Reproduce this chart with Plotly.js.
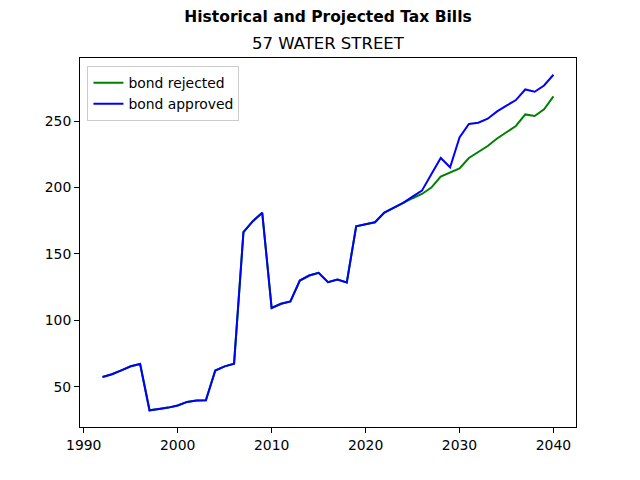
<!DOCTYPE html>
<html>
<head>
<meta charset="utf-8">
<script src="https://cdn.plot.ly/plotly-3.0.1.min.js"></script>
<style>
  html, body { margin: 0; padding: 0; background: #fff; }
  #chart { width: 640px; height: 480px; }
</style>
</head>
<body>
<div id="chart"></div>
<script>
var years = [];
for (let y = 1992; y <= 2040; y++) years.push(y);

// 1992..2040
var bondRejected = [
    57.4, 59.4, 62.4, 65.4, 67.1, 32.3, 33.3, 34.3, 35.9, 38.6,
    39.6, 39.8, 62.2, 65.4, 67.4, 166.4, 174.7, 181.0, 109.3, 112.5,
    114.3, 130.0, 133.8, 135.8, 128.8, 130.8, 128.6, 170.9, 172.4, 173.9,
    181.2, 185.0, 188.5, 192.0, 195.2, 200.0, 208.3, 211.3, 214.5, 222.3,
    227.0, 231.3, 237.0, 241.8, 246.4, 255.1, 253.9, 258.9, 268.7
];
var bondApproved = [
    57.4, 59.4, 62.4, 65.4, 67.1, 32.3, 33.3, 34.3, 35.9, 38.6,
    39.6, 39.8, 62.2, 65.4, 67.4, 166.4, 174.7, 181.0, 109.3, 112.5,
    114.3, 130.0, 133.8, 135.8, 128.8, 130.8, 128.6, 170.9, 172.4, 173.9,
    181.2, 185.0, 188.5, 193.2, 197.7, 210.0, 222.3, 215.3, 237.8, 247.9,
    248.9, 251.9, 257.4, 261.7, 265.9, 273.9, 272.2, 276.9, 285.0
];

var xTicks = [1990, 2000, 2010, 2020, 2030, 2040];
var yTicks = [50, 100, 150, 200, 250];

var traces = [
    {
        x: years,
        y: bondRejected,
        type: 'scatter',
        mode: 'lines',
        name: 'bond rejected',
        line: { color: 'green', width: 2 }
    },
    {
        x: years,
        y: bondApproved,
        type: 'scatter',
        mode: 'lines',
        name: 'bond approved',
        line: { color: 'blue', width: 2 }
    }
];

var font = 'DejaVu Sans, sans-serif';

var axisStyle = {
    showgrid: false,
    zeroline: false,
    showline: true,
    mirror: true,
    linecolor: 'black',
    linewidth: 1,
    ticks: 'outside',
    ticklen: 5,
    tickwidth: 1,
    tickcolor: 'black',
    tickfont: { family: font, size: 13.9, color: 'black' }
};

var layout = {
    width: 640,
    height: 480,
    paper_bgcolor: 'white',
    plot_bgcolor: 'white',
    margin: { l: 80, r: 64, t: 58, b: 53 },
    font: { family: font, color: 'black' },
    title: {
        text: '<b>Historical and Projected Tax Bills</b>',
        font: { family: font, size: 15.5, color: 'black' },
        x: 0.5,
        xref: 'paper',
        y: 1 - 17 / 480,
        yref: 'container',
        yanchor: 'middle'
    },
    annotations: [{
        text: '57 WATER STREET',
        xref: 'paper',
        yref: 'paper',
        x: 0.5,
        y: 1,
        yshift: 3,
        xanchor: 'center',
        yanchor: 'bottom',
        showarrow: false,
        font: { family: font, size: 16.5, color: 'black' }
    }],
    xaxis: Object.assign({}, axisStyle, {
        range: [1989.6, 2042.4],
        tickvals: xTicks
    }),
    yaxis: Object.assign({}, axisStyle, {
        range: [19.7, 297.6],
        tickvals: yTicks
    }),
    showlegend: true,
    legend: {
        x: 0.015,
        y: 0.978,
        xanchor: 'left',
        yanchor: 'top',
        bgcolor: 'rgba(255,255,255,0.8)',
        bordercolor: '#cccccc',
        borderwidth: 1,
        font: { family: font, size: 13.9, color: 'black' },
        tracegroupgap: 0
    }
};

Plotly.newPlot('chart', traces, layout, { displayModeBar: false, staticPlot: true });
</script>
</body>
</html>
